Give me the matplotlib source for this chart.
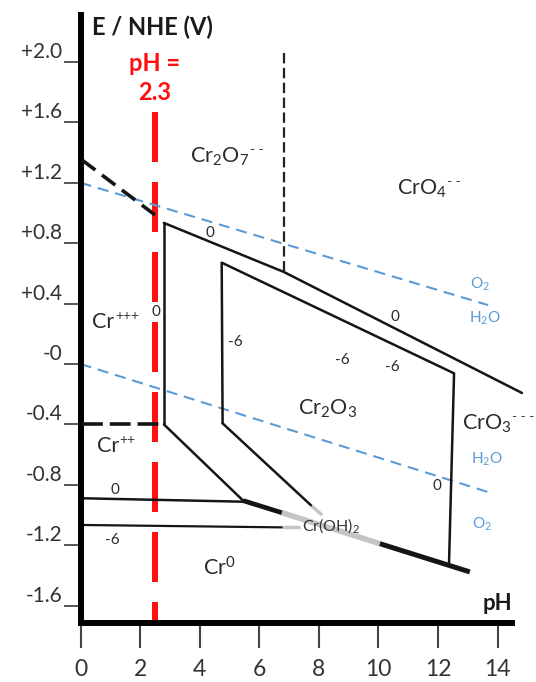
import matplotlib
matplotlib.use("Agg")
import matplotlib.pyplot as plt

plt.rcParams['font.family'] = ['Lato', 'DejaVu Sans']
plt.rcParams['mathtext.default'] = 'regular'
plt.rcParams['lines.scale_dashes'] = False

# ---------------- data ----------------
ph_ticks = [0, 2, 4, 6, 8, 10, 12, 14]
e_ticks = [2.0, 1.6, 1.2, 0.8, 0.4, 0.0, -0.4, -0.8, -1.2, -1.6]
e_tick_labels = ['+2.0', '+1.6', '+1.2', '+0.8', '+0.4', '-0', '-0.4', '-0.8', '-1.2', '-1.6']

ph_marker = 2.50            # drawn position of the red marker line
ph_marker_text = ['pH =', '2.3']
ph_marker_top = 1.671

# Cr+++ / Cr2O7-- (dashed)
cr3_cr2o7_ph = [0.05, 2.50]
cr3_cr2o7_e = [1.351, 0.987]
# upper "0" boundary (Cr2O7 / CrO4 vs Cr2O3)
upper0_ph = [2.80, 6.83, 14.82]
upper0_e = [0.934, 0.609, -0.192]
# Cr+++ / Cr2O3 vertical (0)
cr3_vert_ph = [2.80, 2.80]
cr3_vert_e = [0.934, -0.40]
# Cr++ / Cr+++ dashed
cr2_cr3_ph = [0.05, 2.75]
cr2_cr3_e = [-0.395, -0.395]
# Cr++ / Cr2O3 diagonal
cr2_diag_ph = [2.80, 5.46]
cr2_diag_e = [-0.40, -0.905]
# Cr0 / Cr++ (0)
cr0_line0_ph = [0.0, 5.46]
cr0_line0_e = [-0.889, -0.912]
# Cr0 lower boundary, split in dark / faded / dark parts
bottom1_ph = [5.46, 6.76]
bottom1_e = [-0.905, -0.985]
bottom_grey_ph = [6.76, 10.05]
bottom_grey_e = [-0.985, -1.19]
bottom2_ph = [10.05, 13.07]
bottom2_e = [-1.19, -1.377]
# Cr0 / Cr++ (-6)
cr0_line6_ph = [0.0, 6.76]
cr0_line6_e = [-1.066, -1.082]
cr0_line6_grey_ph = [6.76, 7.38]
cr0_line6_grey_e = [-1.082, -1.082]
# inner (-6) polygon
inner_ph = [4.77, 4.74, 12.54, 12.37]
inner_e = [-0.393, 0.671, -0.062, -1.325]
inner_diag_ph = [4.77, 7.76]
inner_diag_e = [-0.393, -0.940]
inner_diag_grey_ph = [7.76, 8.11]
inner_diag_grey_e = [-0.940, -1.0]
# Cr2O7 / CrO4 dashed vertical
cr2o7_cro4_ph = [6.83, 6.83]
cr2o7_cro4_e = [2.06, 0.609]
# water stability lines
o2_h2o_ph = [0.0, 13.68]
o2_h2o_e = [1.20, 0.39]
h2o_h2_ph = [0.0, 13.68]
h2o_h2_e = [0.0, -0.848]

# labels: (text, pH, E at cap-centre)
species = [
    (r'Cr$_2$O$_7$', 3.68, 1.384),
    (r'CrO$_4$', 10.62, 1.172),
    (r'Cr', 0.39, 0.291),
    (r'Cr$_2$O$_3$', 7.30, -0.285),
    (r'CrO$_3$', 12.81, -0.384),
    (r'Cr', 0.55, -0.536),
    (r'Cr$^{0}$', 4.11, -1.351),
]
charges = [
    ('- -', 5.69, 1.417),
    ('- -', 12.30, 1.205),
    ('- - -', 14.48, -0.351),
    ('+++', 1.16, 0.318),
    ('++', 1.29, -0.503),
]
conc_labels = [
    ('0', 2.53, 0.344), ('0', 4.35, 0.868), ('-6', 5.19, 0.146),
    ('0', 10.56, 0.311), ('-6', 8.78, 0.026), ('-6', 10.46, -0.020),
    ('0', 11.97, -0.808), ('0', 1.16, -0.834), ('-6', 1.06, -1.166),
]
water_labels = [
    (r'O$_2$', 13.41, 0.536), (r'H$_2$O', 13.58, 0.311),
    (r'H$_2$O', 13.65, -0.623), (r'O$_2$', 13.48, -1.053),
]

# ---------------- figure ----------------
W, H, DPI = 536, 682, 100
fig = plt.figure(figsize=(W / DPI, H / DPI), dpi=DPI)
ax = fig.add_axes([80.5 / W, (H - 622.5) / H, 431.5 / W, 607.5 / H])
ax.set_xlim(0, 14.485)
ax.set_ylim(-1.712, 2.311)

for s in ['top', 'right']:
    ax.spines[s].set_visible(False)
for s in ['left', 'bottom']:
    ax.spines[s].set_linewidth(4.3)
    ax.spines[s].set_color('black')

ax.set_xticks(ph_ticks)
ax.set_xticklabels([str(t) for t in ph_ticks])
ax.tick_params(axis='x', direction='out', length=18, width=1.5, color='#444',
               pad=8, labelsize=16.5, labelcolor='#333')
ax.set_yticks(e_ticks)
ax.set_yticklabels([])
ax.tick_params(axis='y', direction='out', length=12, width=1.4, color='#555')
for e, lab in zip(e_ticks, e_tick_labels):
    ax.annotate(lab, xy=(0, e), xycoords=('axes fraction', 'data'),
                xytext=(-13.3, 7.2), textcoords='offset points',
                ha='right', va='center', fontsize=15, color='#333',
                annotation_clip=False)

black = '#151515'
lw = 1.8
kw = dict(color=black, lw=lw, clip_on=False, solid_capstyle='round')

# red marker
ax.plot([ph_marker, ph_marker], [ph_marker_top, -1.712], color='#ff1010', lw=4.3,
        dashes=(36, 14.4), solid_capstyle='butt', dash_capstyle='butt', clip_on=False, zorder=1)

# water lines
blue = '#5b9bd5'
ax.plot(o2_h2o_ph, o2_h2o_e, color=blue, lw=1.5, dashes=(8, 5), zorder=2)
ax.plot(h2o_h2_ph, h2o_h2_e, color=blue, lw=1.5, dashes=(8, 5), zorder=2)

# dashed boundaries
ax.plot(cr3_cr2o7_ph, cr3_cr2o7_e, color=black, lw=2.6, dashes=(12, 6), zorder=3)
ax.plot(cr2_cr3_ph, cr2_cr3_e, color=black, lw=2.6, dashes=(15, 5), zorder=3)
ax.plot(cr2o7_cro4_ph, cr2o7_cro4_e, color='#222', lw=1.6, dashes=(7.5, 3.2), zorder=3)

# solid boundaries
ax.plot(upper0_ph, upper0_e, **kw)
ax.plot(cr3_vert_ph, cr3_vert_e, **kw)
ax.plot(cr2_diag_ph, cr2_diag_e, **kw)
ax.plot(cr0_line0_ph, cr0_line0_e, **kw)
ax.plot(cr0_line6_ph, cr0_line6_e, color=black, lw=1.6)
ax.plot(inner_ph, inner_e, **kw)
ax.plot(inner_diag_ph, inner_diag_e, **kw)

grey = '#c4c4c4'
ax.plot(bottom_grey_ph, bottom_grey_e, color=grey, lw=4.0, solid_capstyle='butt')
ax.plot(cr0_line6_grey_ph, cr0_line6_grey_e, color=grey, lw=2.5, solid_capstyle='butt')
ax.plot(inner_diag_grey_ph, inner_diag_grey_e, color=grey, lw=2.5, solid_capstyle='butt')
ax.plot(bottom1_ph, bottom1_e, color=black, lw=3.4, solid_capstyle='butt')
ax.plot(bottom2_ph, bottom2_e, color=black, lw=3.6, solid_capstyle='butt')

# ---------------- text ----------------
ax.text(0.39, 2.232, 'E / NHE (V)', fontsize=17, fontweight='bold', color='#1a1a1a',
        ha='left', va='center', clip_on=False)
ax.text(ph_marker, 1.993, ph_marker_text[0], fontsize=17, fontweight='bold', color='#ff1010',
        ha='center', va='center')
ax.text(ph_marker, 1.795, ph_marker_text[1], fontsize=17, fontweight='bold', color='#ff1010',
        ha='center', va='center')
ax.text(13.51, -1.583, 'pH', fontsize=16, fontweight='bold', color='#1a1a1a',
        ha='left', va='center')

for txt, x, y in species:
    ax.text(x, y - 0.05, txt, fontsize=15.5, color='#2a2a2a', ha='left', va='baseline',
            clip_on=False)
for txt, x, y in charges:
    ax.text(x, y, txt, fontsize=10, color='#3a3a3a', ha='left', va='center', clip_on=False)
for txt, x, y in conc_labels:
    ax.text(x, y, txt, fontsize=11, color='#2a2a2a', ha='center', va='center')
for txt, x, y in water_labels:
    ax.text(x, y - 0.035, txt, fontsize=11, color=blue, ha='center', va='baseline')
ax.text(7.44, -1.066 - 0.035, r'Cr(OH)$_2$', fontsize=11.5, color='#333', ha='left',
        va='baseline')

fig.savefig('out.png', dpi=DPI)
